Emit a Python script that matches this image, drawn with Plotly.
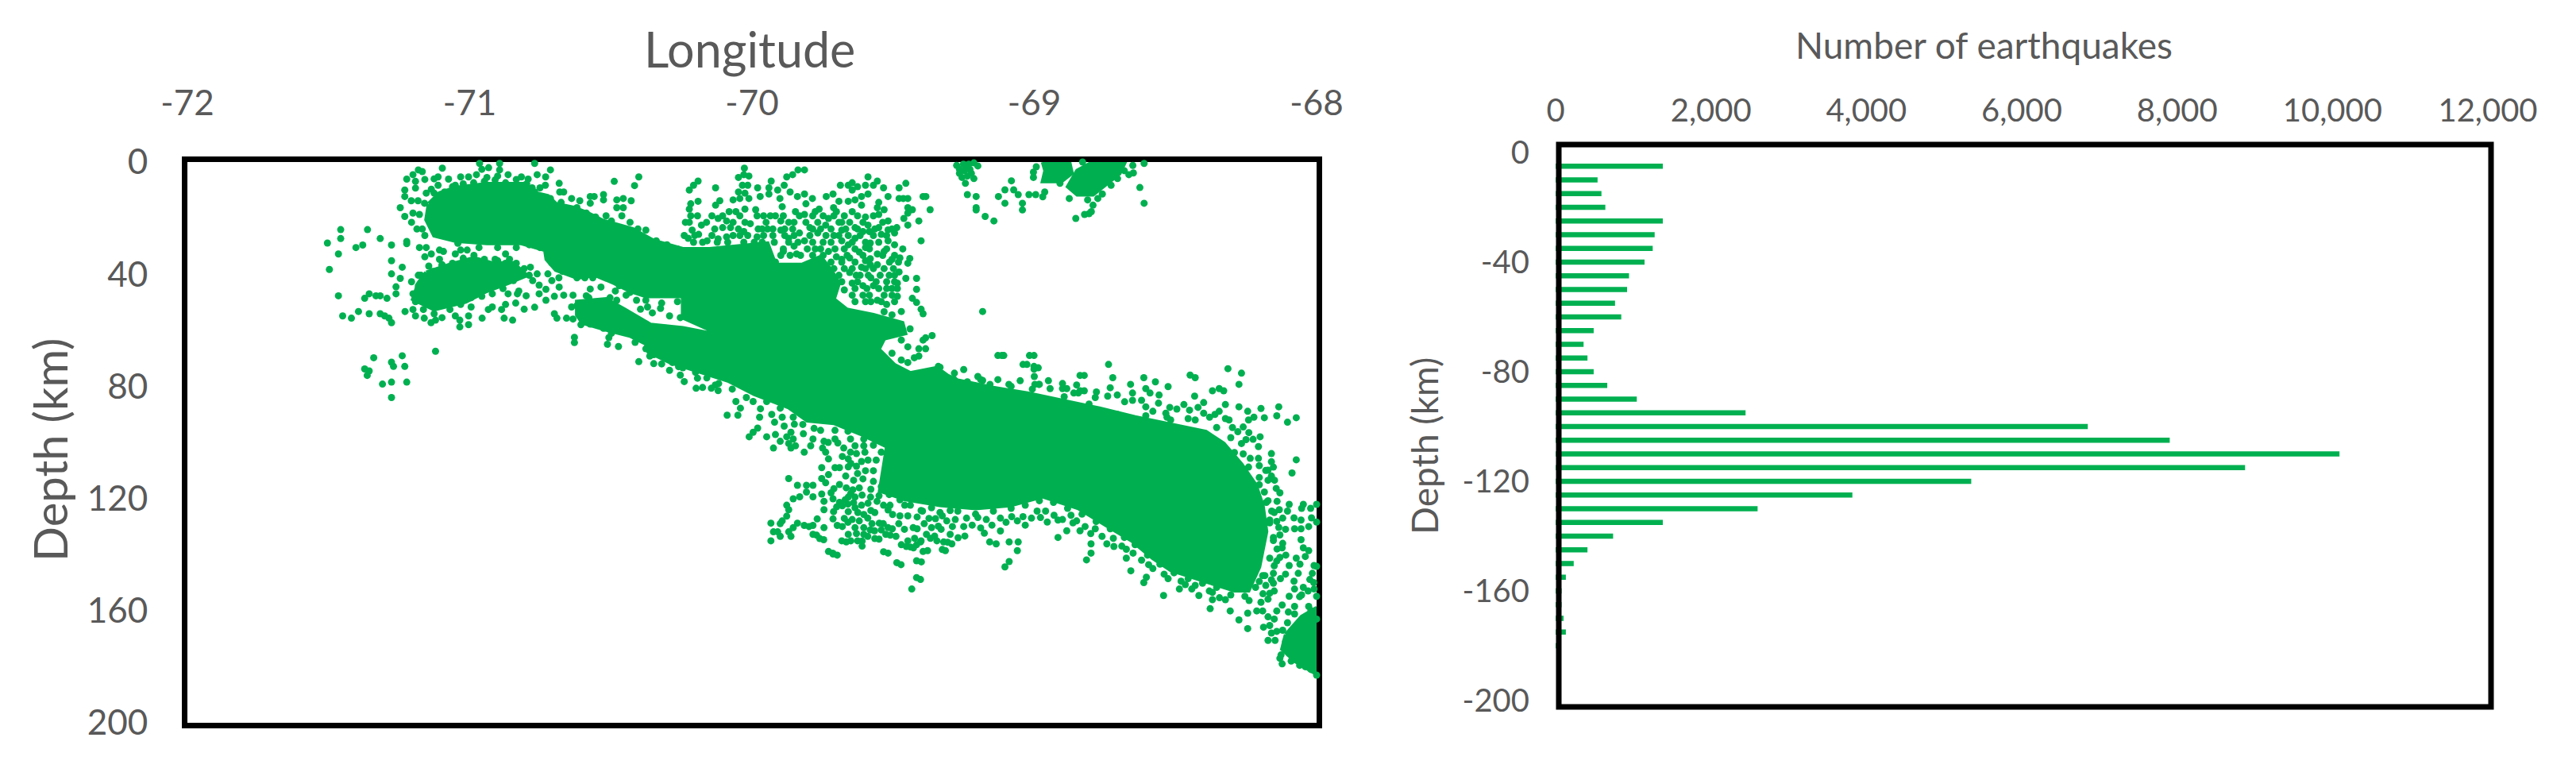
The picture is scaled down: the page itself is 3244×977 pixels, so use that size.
import plotly.graph_objects as go

# everything here. lon, depth pairs
GREEN = '#00B050'
GREY = '#595959'

# solid parts of the cloud, too dense to see single quakes: outlines (lon, depth)
slab_outline = [
    (-71.145, 14.9), (-71.107, 11.1), (-71.051, 9.2), (-70.939, 7.8), (-70.807, 7.8), (-70.765, 11.1),
    (-70.723, 12.1), (-70.695, 14.9), (-70.629, 16.3), (-70.582, 18.2), (-70.526, 21.0), (-70.423, 23.9),
    (-70.348, 28.1), (-70.282, 30.0), (-70.245, 31.0), (-70.151, 31.0), (-70.057, 30.0), (-69.945, 29.0),
    (-69.917, 36.6), (-69.823, 36.6), (-69.757, 33.8), (-69.720, 38.5), (-69.692, 43.2), (-69.710, 48.9),
    (-69.664, 52.6), (-69.570, 54.5), (-69.467, 57.4), (-69.457, 61.1), (-69.532, 63.0), (-69.551, 66.8),
    (-69.495, 72.4), (-69.439, 75.3), (-69.345, 73.4), (-69.307, 76.2), (-69.271, 77.9), (-69.145, 80.5),
    (-69.020, 82.6), (-68.894, 85.2), (-68.769, 87.9), (-68.643, 91.0), (-68.517, 93.6), (-68.392, 96.2),
    (-68.329, 100.4), (-68.266, 107.8), (-68.216, 115.1), (-68.191, 122.4), (-68.178, 131.8), (-68.203, 144.4),
    (-68.241, 152.8), (-68.291, 152.8), (-68.392, 149.6), (-68.517, 145.5), (-68.580, 141.3), (-68.655, 135.0),
    (-68.743, 129.7), (-68.844, 123.5), (-68.970, 119.3), (-69.082, 122.4), (-69.208, 123.5), (-69.334, 122.4),
    (-69.459, 120.3), (-69.547, 117.2), (-69.522, 101.5), (-69.617, 96.9), (-69.710, 93.1), (-69.804, 92.2),
    (-69.870, 87.5), (-69.992, 82.8), (-70.085, 78.0), (-70.170, 75.2), (-70.226, 73.3), (-70.292, 71.4),
    (-70.367, 67.7), (-70.376, 64.8), (-70.432, 62.0), (-70.507, 60.1), (-70.601, 57.3), (-70.620, 54.5),
    (-70.620, 49.8), (-70.517, 48.9), (-70.451, 52.6), (-70.360, 58.0), (-70.245, 59.2), (-70.100, 62.0),
    (-70.245, 55.5), (-70.245, 47.9), (-70.376, 47.9), (-70.432, 46.0), (-70.488, 43.2), (-70.554, 40.4),
    (-70.620, 41.3), (-70.695, 38.5), (-70.728, 34.7), (-70.733, 31.4), (-70.817, 29.0), (-70.939, 29.0),
    (-71.051, 28.1), (-71.126, 26.2), (-71.154, 20.6), (-71.145, 14.9),
]
lower_blob_outline = [
    (-71.154, 39.4), (-71.070, 36.6), (-70.985, 34.2), (-70.920, 36.1), (-70.845, 36.1), (-70.798, 40.4),
    (-70.864, 43.2), (-70.939, 46.0), (-71.014, 49.8), (-71.126, 52.6), (-71.201, 48.9), (-71.182, 43.2),
    (-71.154, 39.4),
]
deep_end_outline = [
    (-68.109, 168.5), (-68.053, 162.2), (-68.000, 159.0), (-68.000, 182.6), (-68.078, 177.9), (-68.122, 173.7),
    (-68.109, 168.5),
]
shallow_a_outline = [
    (-68.970, 0.0), (-68.876, 0.0), (-68.867, 4.0), (-68.904, 6.9), (-68.970, 6.9), (-68.961, 3.1), (-68.970, 0.0),
]
shallow_b_outline = [
    (-68.792, 0.0), (-68.679, 0.0), (-68.698, 4.05), (-68.745, 7.8), (-68.792, 11.6), (-68.848, 11.6),
    (-68.881, 8.8), (-68.848, 3.1), (-68.792, 0.0),
]

# single quakes around the solid parts
far_west = [
    (-71.457, 24.1), (-71.362, 24.1), (-71.457, 27.3), (-71.504, 28.9), (-71.317, 27.3), (-71.379, 29.6),
    (-71.403, 30.5), (-71.277, 29.6), (-71.223, 28.3), (-71.223, 29.1), (-71.465, 32.8), (-71.277, 35.2),
    (-71.497, 38.3), (-71.239, 37.5), (-71.277, 39.9), (-71.246, 41.5), (-71.261, 44.5), (-71.261, 47.0),
    (-71.465, 47.7), (-71.356, 47.0), (-71.372, 48.6), (-71.332, 47.7), (-71.317, 47.7), (-71.293, 48.6),
    (-71.394, 53.3), (-71.450, 54.9), (-71.419, 55.7), (-71.356, 54.1), (-71.317, 54.1), (-71.301, 54.9),
    (-71.286, 55.7), (-71.277, 57.3), (-71.121, 67.5), (-71.340, 69.8), (-71.239, 69.1), (-71.277, 71.4),
    (-71.270, 72.9), (-71.230, 72.9), (-71.372, 73.8), (-71.356, 74.5), (-71.363, 76.1), (-71.309, 79.2),
    (-71.277, 78.5), (-71.223, 78.5), (-71.277, 84.0),
]
blob_top = [
    (-71.223, 6.1), (-71.201, 4.5), (-71.182, 2.8), (-71.168, 3.4), (-71.097, 2.2), (-70.965, 0.5), (-70.894, 0.5),
    (-70.770, 0.5), (-70.714, 2.8), (-70.761, 4.5), (-70.731, 5.3), (-70.933, 2.0), (-70.957, 2.6), (-70.894, 2.8),
    (-70.488, 6.9), (-70.401, 5.3), (-70.416, 8.4), (-70.683, 7.6), (-70.681, 10.7), (-70.667, 10.7), (-70.639, 13.0),
    (-70.610, 13.8), (-70.573, 12.3), (-70.559, 12.3), (-70.526, 11.6), (-70.526, 13.5), (-70.479, 13.5),
    (-70.456, 13.0), (-70.428, 13.8), (-70.573, 14.7), (-70.479, 16.3), (-70.456, 16.3), (-71.246, 16.3),
    (-71.230, 19.4), (-71.230, 10.0), (-71.230, 12.3), (-71.207, 13.8), (-71.183, 13.8), (-71.160, 14.7),
    (-71.201, 18.2), (-71.178, 18.7), (-71.206, 21.5), (-71.187, 23.9), (-71.168, 23.9), (-71.159, 26.2),
    (-71.192, 6.9), (-71.192, 9.3), (-71.159, 6.2), (-71.126, 6.0), (-71.112, 5.3), (-71.075, 6.1), (-71.032, 5.3),
    (-71.004, 5.3), (-70.976, 4.5), (-70.939, 5.5), (-70.901, 5.0), (-70.864, 4.5), (-70.817, 5.3), (-70.793, 6.1),
    (-71.051, 8.3), (-71.154, 11.1), (-71.136, 9.7), (-71.112, 8.3), (-70.732, 8.3), (-70.751, 9.2), (-70.779, 9.2),
]
between_blobs = [
    (-71.178, 30.5), (-71.154, 30.5), (-71.159, 33.8), (-71.136, 32.8), (-71.107, 31.4), (-71.093, 31.9),
    (-71.107, 34.7), (-71.098, 36.6), (-71.145, 37.1), (-71.042, 29.0), (-71.032, 31.4), (-71.009, 31.4),
    (-71.051, 32.8), (-70.967, 30.5), (-70.901, 30.5), (-70.873, 32.8), (-70.835, 30.5), (-70.901, 35.2),
    (-70.859, 34.7), (-70.789, 29.5), (-70.751, 30.5),
]
blob_bottom = [
    (-70.785, 37.5), (-70.761, 39.9), (-70.777, 42.3), (-70.754, 43.9), (-70.730, 45.4), (-70.754, 47.0),
    (-70.730, 49.3), (-70.800, 47.7), (-70.826, 46.0), (-70.837, 50.3), (-70.873, 50.8), (-70.887, 52.6),
    (-70.920, 51.7), (-70.934, 52.6), (-70.807, 52.5), (-70.770, 51.8), (-70.878, 55.7), (-70.848, 56.4),
    (-70.956, 55.7), (-71.004, 58.0), (-71.035, 58.8), (-71.035, 56.4), (-71.004, 54.9), (-70.995, 51.7),
    (-71.051, 54.9), (-71.098, 55.5), (-71.121, 56.4), (-71.137, 57.3), (-71.161, 55.7), (-71.192, 54.9),
    (-71.229, 53.3), (-71.201, 52.6), (-71.192, 49.3), (-71.206, 42.7), (-71.182, 40.4), (-70.864, 47.0),
    (-70.831, 47.0),
]
blob_fringe = [
    (-71.126, 11.1), (-71.089, 10.7), (-71.061, 8.8), (-71.023, 7.8), (-70.986, 7.4), (-70.948, 6.9), (-70.910, 6.4),
    (-70.873, 7.4), (-70.835, 6.2), (-70.798, 7.8), (-70.770, 10.7), (-70.714, 13.0), (-70.676, 14.4), (-70.620, 16.3),
    (-70.587, 18.2), (-70.554, 19.6), (-70.517, 19.2), (-70.498, 21.0), (-70.461, 19.2), (-70.432, 21.5),
    (-70.404, 23.9), (-70.376, 24.3), (-70.339, 28.1), (-70.301, 29.5), (-70.264, 31.0), (-70.718, 33.3),
    (-70.709, 36.1), (-70.671, 39.0), (-70.620, 41.3), (-70.592, 41.3), (-70.564, 41.3), (-70.554, 38.5),
    (-70.498, 41.3), (-70.470, 44.1), (-70.432, 46.5), (-70.376, 49.3), (-70.320, 50.3), (-70.264, 49.8),
    (-70.620, 51.2), (-70.578, 48.4), (-70.535, 50.3), (-70.498, 51.7), (-70.456, 53.6), (-70.423, 55.5),
    (-70.376, 57.8), (-70.339, 60.2), (-70.306, 59.3), (-70.264, 60.2), (-70.573, 57.8), (-70.526, 59.3),
    (-70.498, 61.1), (-70.461, 60.2), (-70.414, 62.1), (-70.376, 61.6), (-70.357, 64.9), (-70.348, 68.7),
    (-70.315, 69.2), (-70.282, 71.5), (-70.245, 73.4), (-71.173, 40.4), (-71.131, 39.0), (-71.098, 37.0),
    (-71.061, 36.1), (-71.023, 34.3), (-70.985, 33.3), (-70.948, 34.7), (-70.910, 34.7), (-70.873, 36.1),
    (-70.835, 36.1), (-70.807, 38.0), (-70.789, 40.4), (-70.845, 42.3), (-70.882, 45.1), (-70.920, 47.0),
    (-70.957, 47.9), (-70.995, 48.4), (-71.032, 50.8), (-71.070, 52.6), (-71.126, 54.1), (-71.164, 52.6),
    (-71.192, 49.8), (-71.201, 47.0), (-71.182, 44.2),
]
slab_gap = [
    (-70.723, 39.9), (-70.709, 42.3), (-70.683, 44.6), (-70.684, 41.3), (-70.700, 47.9), (-70.667, 47.5),
    (-70.634, 47.5), (-70.587, 47.7), (-70.573, 45.3), (-70.535, 44.6), (-70.503, 48.4), (-70.479, 49.3),
    (-70.484, 46.0), (-70.446, 47.5), (-70.409, 49.3), (-70.395, 52.5), (-70.370, 51.7), (-70.353, 53.8),
    (-70.292, 54.9), (-70.254, 55.5), (-70.324, 52.2), (-70.700, 54.1), (-70.691, 55.7), (-70.657, 55.7),
    (-70.634, 56.0), (-70.639, 51.7), (-70.606, 58.0),
]
lower_slab_edge = [
    (-70.629, 62.5), (-70.629, 64.4), (-70.512, 65.0), (-70.473, 65.8), (-70.507, 62.6), (-70.414, 64.3),
    (-70.371, 64.3), (-70.376, 66.6), (-70.362, 69.2), (-70.401, 71.2), (-70.348, 71.9), (-70.320, 72.0),
    (-70.292, 74.3), (-70.254, 76.0), (-70.240, 78.3), (-70.193, 77.1), (-70.198, 80.7), (-70.175, 80.4),
    (-70.144, 80.7), (-70.120, 81.5), (-70.118, 79.0), (-70.301, 70.1), (-70.057, 85.4), (-70.041, 87.8),
    (-70.088, 90.3), (-70.050, 90.3), (-69.996, 85.4), (-69.948, 85.4), (-69.900, 87.8), (-69.973, 91.0),
    (-69.893, 91.0), (-69.854, 91.0),
]
under_band_west = [
    (-69.886, 94.2), (-69.980, 94.9), (-69.996, 96.4), (-70.010, 98.0), (-69.948, 98.0), (-69.917, 97.2),
    (-69.900, 99.6), (-69.924, 102.0), (-69.862, 96.4), (-69.877, 98.0), (-69.854, 98.8), (-69.870, 100.4),
    (-69.846, 101.2), (-69.862, 102.0), (-69.815, 103.5), (-69.792, 101.2), (-69.784, 98.8), (-69.818, 96.9),
    (-69.757, 95.7), (-69.745, 99.6), (-69.739, 103.5), (-69.729, 105.9), (-69.706, 98.8), (-69.696, 100.2),
    (-69.675, 102.0), (-69.706, 95.7), (-69.651, 98.8), (-69.651, 103.5), (-69.604, 98.8), (-69.635, 101.2),
    (-69.604, 101.2), (-69.659, 105.9), (-69.659, 108.7), (-69.612, 106.8), (-69.753, 109.0), (-69.706, 109.0),
    (-69.690, 109.0), (-69.729, 111.5), (-69.668, 112.0), (-69.753, 112.9), (-69.870, 112.9), (-69.839, 115.3),
    (-69.807, 115.3), (-69.784, 115.3), (-69.739, 114.4), (-69.807, 117.7), (-69.753, 118.4), (-69.784, 119.4),
    (-69.831, 119.4), (-69.854, 120.1), (-69.877, 122.4), (-69.870, 124.0), (-69.877, 126.3), (-69.893, 128.0),
    (-69.900, 129.0), (-69.933, 128.8), (-69.839, 128.8), (-69.854, 130.4), (-69.870, 131.9), (-69.924, 131.9),
    (-69.909, 131.9), (-69.900, 133.5), (-69.933, 135.1), (-69.862, 133.5), (-69.815, 129.6), (-69.784, 132.8),
    (-69.760, 134.3), (-69.784, 129.6), (-69.769, 127.3), (-69.745, 130.4), (-69.713, 127.3), (-69.698, 129.6),
    (-69.745, 121.0), (-69.745, 124.0), (-69.713, 120.1), (-69.690, 121.4), (-69.659, 119.5), (-69.635, 119.5),
    (-69.666, 116.2), (-69.643, 116.9), (-69.620, 116.2), (-69.612, 122.4), (-69.589, 121.7), (-69.557, 121.0),
    (-69.635, 123.3), (-69.659, 124.7), (-69.673, 127.1), (-69.711, 124.7), (-69.579, 124.3), (-69.565, 125.0),
    (-69.604, 125.7), (-69.620, 128.0), (-69.635, 130.4), (-69.604, 130.4), (-69.581, 131.2), (-69.604, 132.8),
    (-69.659, 132.8), (-69.682, 135.1), (-69.650, 135.1), (-69.626, 135.1), (-69.565, 134.3), (-69.549, 128.8),
    (-69.542, 131.2), (-69.526, 132.8), (-69.518, 130.4), (-69.534, 122.4), (-69.511, 122.4), (-69.518, 124.1),
    (-69.502, 125.7), (-69.476, 126.2), (-69.729, 138.9), (-69.713, 139.8), (-69.534, 139.0), (-69.487, 142.9),
    (-69.417, 142.2), (-69.417, 148.2), (-69.471, 136.5), (-69.448, 135.1), (-69.424, 134.2), (-69.439, 137.3),
    (-69.401, 135.1), (-69.417, 136.5), (-69.394, 138.9), (-69.429, 130.4), (-69.448, 126.2), (-69.415, 126.6),
    (-69.373, 127.1), (-69.364, 130.4), (-69.340, 129.9), (-69.382, 132.8), (-69.368, 134.2), (-69.345, 135.1),
    (-69.326, 138.2), (-69.307, 135.6), (-69.298, 132.8),
]
band_fringe = [
    (-69.589, 106.3), (-69.570, 110.1), (-69.607, 113.0), (-69.570, 113.9), (-69.542, 115.8), (-69.598, 110.1),
    (-69.560, 106.3), (-69.542, 103.5), (-69.626, 111.1), (-69.579, 116.7), (-69.514, 118.6), (-69.476, 120.5),
    (-69.439, 122.4), (-69.401, 124.3), (-69.364, 123.3), (-69.326, 126.2), (-69.298, 124.3), (-69.459, 122.4),
    (-69.396, 124.5), (-69.334, 125.0), (-69.271, 124.5), (-69.208, 125.6), (-69.145, 124.5), (-69.082, 123.5),
    (-69.032, 122.4), (-68.982, 120.8), (-68.932, 121.4), (-68.882, 123.5), (-68.831, 125.6), (-68.781, 128.2),
    (-68.731, 130.8), (-68.681, 133.9), (-68.643, 136.5), (-68.599, 140.2), (-68.555, 143.4), (-68.505, 146.5),
    (-68.455, 148.6), (-68.404, 150.2), (-68.354, 151.7), (-68.304, 154.4), (-68.254, 154.9), (-68.216, 151.7),
    (-68.191, 147.5), (-68.166, 141.3), (-68.153, 135.0), (-68.166, 127.7), (-68.178, 121.4), (-68.203, 115.1),
    (-68.241, 108.8), (-68.291, 103.6), (-68.304, 98.3), (-68.354, 94.7), (-68.430, 92.0), (-68.530, 91.0),
    (-68.605, 90.5), (-68.706, 90.0), (-68.806, 86.3), (-68.894, 83.7), (-69.007, 81.0), (-69.082, 80.0),
    (-69.183, 77.9), (-69.283, 75.3), (-69.334, 73.2),
]
band_under_extra = [
    (-69.67, 120.5), (-69.68, 122.6), (-69.66, 122.0), (-69.70, 123.0), (-69.64, 121.5), (-69.625, 125.0),
    (-69.59, 127.0), (-69.575, 129.0), (-69.68, 130.0), (-69.66, 128.5), (-69.645, 127.5), (-69.63, 132.5),
    (-69.59, 133.5), (-69.61, 137.0), (-69.48, 129.0), (-69.46, 131.0), (-69.49, 133.5), (-69.39, 129.0),
    (-69.35, 127.2), (-69.33, 131.0), (-69.31, 128.0), (-69.29, 130.0), (-69.28, 127.5), (-69.27, 134.0),
    (-69.25, 130.0), (-69.24, 127.0), (-69.22, 129.5), (-69.20, 126.8), (-69.19, 130.5), (-69.17, 127.5),
    (-69.15, 129.5), (-69.12, 127.0), (-69.10, 128.5), (-69.08, 126.5), (-69.06, 128.0), (-69.04, 126.5),
    (-69.01, 127.0), (-68.99, 124.5), (-68.96, 124.5), (-68.93, 126.0), (-68.90, 127.5), (-68.87, 126.0),
    (-68.85, 128.0), (-68.82, 130.0), (-68.80, 132.5), (-68.76, 133.5), (-68.72, 134.2), (-68.69, 137.0),
    (-68.65, 139.5), (-68.62, 142.0), (-68.58, 145.0), (-68.54, 147.0), (-68.48, 149.5), (-68.43, 151.0),
    (-68.38, 153.0), (-69.75, 102.0), (-69.73, 100.0), (-69.68, 105.0), (-69.65, 107.5), (-69.63, 108.5),
    (-69.64, 113.5), (-69.69, 115.0), (-69.71, 116.5), (-69.72, 118.0), (-69.65, 118.2), (-69.61, 118.8),
    (-69.58, 119.5), (-69.55, 119.0), (-69.60, 103.5), (-69.63, 104.0), (-69.57, 101.0), (-69.55, 99.0),
    (-69.60, 96.5), (-69.66, 96.0), (-69.63, 95.0), (-69.70, 92.5), (-69.78, 95.0), (-69.82, 93.6), (-69.85, 93.5),
    (-69.93, 90.0), (-69.92, 92.8), (-69.97, 88.0), (-70.02, 84.0), (-70.07, 81.0), (-70.13, 79.5), (-70.16, 77.0),
    (-70.20, 75.0), (-70.26, 73.0), (-70.31, 69.5),
]
band_top = [
    (-69.108, 69.0), (-69.001, 69.0), (-69.026, 72.2), (-68.986, 73.4), (-68.737, 72.2), (-68.823, 76.1),
    (-68.722, 76.9), (-68.612, 76.9), (-68.571, 78.4), (-68.448, 76.0), (-68.430, 76.9), (-68.314, 73.7),
    (-68.266, 75.3), (-68.275, 79.3), (-68.526, 80.1), (-68.659, 79.3), (-68.731, 80.5), (-68.885, 80.8),
    (-68.982, 79.3), (-68.944, 80.8), (-68.844, 82.4), (-68.823, 81.6), (-68.784, 84.0), (-68.706, 83.1),
    (-68.652, 82.4), (-68.605, 80.8), (-68.590, 82.4), (-68.558, 83.1), (-68.652, 85.0), (-68.605, 87.3),
    (-68.580, 88.9), (-68.534, 89.6), (-68.495, 88.1), (-68.470, 86.5), (-68.432, 83.5), (-68.400, 85.8),
    (-68.369, 81.6), (-68.345, 80.8), (-68.329, 81.6), (-68.323, 86.5), (-68.275, 87.3), (-68.345, 88.9),
    (-68.244, 88.9), (-68.197, 87.9), (-68.241, 92.0), (-68.134, 87.3), (-68.141, 90.5), (-68.072, 91.2),
    (-68.103, 92.8), (-68.185, 91.2), (-68.222, 91.0), (-68.400, 89.6), (-68.455, 91.5), (-68.517, 92.0),
    (-68.379, 91.0), (-68.323, 91.5), (-68.298, 94.7), (-68.279, 96.2), (-68.266, 100.4), (-68.225, 98.9),
    (-68.206, 101.5), (-68.260, 104.1), (-68.235, 105.7), (-68.206, 105.7), (-68.203, 108.3), (-68.160, 106.9),
    (-68.072, 106.2), (-68.087, 110.9), (-68.153, 108.8), (-68.172, 109.9), (-68.149, 113.5), (-68.172, 113.5),
    (-68.143, 116.4), (-68.203, 112.5), (-68.185, 117.7), (-68.172, 120.8),
]
band_top_extra = [
    (-69.25, 74.0), (-69.20, 76.5), (-69.05, 78.0), (-69.00, 76.5), (-68.95, 78.0), (-68.90, 79.0), (-68.85, 79.5),
    (-68.78, 82.0), (-68.74, 83.5), (-68.68, 85.5), (-68.62, 85.0), (-68.56, 86.0), (-68.52, 87.5), (-68.45, 88.5),
    (-68.42, 87.5), (-68.36, 90.0), (-68.31, 92.0), (-68.26, 94.5), (-68.24, 96.5), (-68.25, 99.0), (-68.20, 98.0),
    (-68.16, 104.0), (-68.18, 110.0), (-68.16, 112.0), (-68.13, 118.0), (-68.14, 121.0), (-68.15, 125.0),
    (-68.12, 127.0), (-68.13, 133.0), (-68.11, 131.0), (-68.12, 136.0), (-68.14, 138.0), (-68.13, 141.0),
    (-68.15, 144.0), (-68.18, 151.0), (-68.16, 149.0), (-68.19, 154.0), (-68.15, 153.0), (-68.11, 147.0),
    (-68.08, 149.5), (-68.06, 155.0), (-68.03, 153.0), (-68.01, 150.0), (-68.02, 160.0), (-68.00, 163.0),
    (-68.10, 160.5), (-68.15, 163.0), (-68.12, 167.0), (-68.16, 168.0), (-68.11, 171.0), (-68.13, 177.0),
    (-68.09, 178.0), (-68.06, 179.5), (-68.04, 180.0), (-68.02, 181.0),
]
east_edge = [
    (-68.097, 122.1), (-68.047, 122.1), (-68.021, 123.5), (-68.000, 122.1), (-68.053, 123.5), (-68.132, 124.0),
    (-68.103, 124.5), (-68.159, 124.5), (-68.080, 126.9), (-68.055, 127.7), (-68.018, 126.9), (-68.000, 128.4),
    (-68.141, 128.2), (-68.166, 128.7), (-68.078, 130.8), (-68.028, 130.0), (-68.055, 130.8), (-68.134, 130.3),
    (-68.153, 133.9), (-68.055, 134.7), (-68.047, 137.6), (-68.122, 137.6), (-68.028, 138.6), (-68.109, 140.2),
    (-68.072, 141.3), (-68.040, 140.7), (-68.141, 142.3), (-68.000, 144.2), (-68.097, 143.9), (-68.059, 143.4),
    (-68.009, 143.9), (-68.065, 146.7), (-68.015, 146.7), (-68.153, 146.7), (-68.183, 147.5), (-68.024, 148.9),
    (-68.128, 148.6), (-68.203, 149.6), (-68.153, 150.2), (-68.047, 151.7), (-68.078, 152.3), (-68.009, 152.3),
    (-68.000, 154.9), (-68.166, 153.8), (-68.097, 154.9), (-68.053, 154.4), (-68.172, 155.9), (-68.122, 158.0),
    (-68.078, 158.5), (-68.028, 158.5), (-68.197, 157.0), (-68.239, 156.4), (-68.212, 160.1), (-68.244, 160.9),
    (-68.306, 160.1), (-68.275, 163.3), (-68.244, 166.4), (-68.122, 179.0), (-68.126, 175.8), (-68.000, 183.0),
    (-68.172, 170.6), (-68.188, 165.9), (-68.166, 165.3), (-68.147, 170.6), (-68.141, 167.4), (-68.103, 164.3),
    (-68.172, 162.2), (-68.191, 160.1), (-68.141, 160.1), (-68.078, 161.2), (-68.028, 162.2), (-68.097, 175.3),
]
band_bottom = [
    (-68.377, 159.3), (-68.369, 156.1), (-68.344, 155.4), (-68.323, 156.1), (-68.369, 153.5), (-68.417, 154.6),
    (-68.442, 152.3), (-68.486, 152.3), (-68.465, 150.7), (-68.542, 154.6), (-68.526, 148.6), (-68.612, 150.0),
    (-68.603, 148.1), (-68.658, 145.8), (-68.595, 143.6), (-68.674, 141.3), (-68.743, 136.2), (-68.718, 137.1),
    (-68.815, 141.9), (-68.799, 139.5), (-68.799, 136.2), (-68.674, 138.1), (-68.916, 133.9), (-68.838, 131.5),
    (-68.784, 130.8), (-68.885, 131.5), (-68.863, 128.7), (-68.916, 127.7), (-68.954, 128.4), (-68.978, 126.8),
    (-69.057, 135.5), (-69.089, 135.5), (-69.060, 138.6), (-69.089, 142.5), (-69.104, 144.4), (-69.032, 129.5),
    (-69.120, 131.6), (-69.135, 136.2), (-69.158, 135.5), (-69.177, 132.4), (-69.246, 133.4), (-69.292, 136.2),
    (-69.315, 138.6), (-69.321, 135.5), (-69.353, 133.4), (-69.378, 138.6), (-69.403, 135.5), (-69.400, 142.6),
    (-69.472, 143.6), (-69.518, 139.5), (-69.403, 148.9), (-69.434, 152.3), (-69.428, 137.6), (-69.453, 137.1),
    (-69.415, 130.8), (-69.503, 130.8), (-69.550, 134.5), (-69.510, 133.1), (-69.535, 129.0), (-69.566, 131.5),
    (-69.610, 135.2), (-69.666, 135.5), (-69.698, 140.2), (-69.714, 139.5), (-69.746, 134.7), (-69.771, 133.1),
    (-69.798, 130.0),
]
upper_cloud = [
    (-70.027, 2.2), (-69.814, 2.8), (-69.837, 2.8), (-69.856, 4.5), (-69.877, 5.3), (-70.191, 6.8), (-70.207, 8.3),
    (-70.222, 10.0), (-70.129, 9.2), (-69.932, 6.8), (-69.940, 9.2), (-69.909, 10.0), (-69.886, 8.3), (-69.865, 10.7),
    (-69.980, 9.2), (-69.971, 12.3), (-69.940, 11.4), (-69.901, 13.0), (-69.893, 15.9), (-69.839, 12.3),
    (-69.814, 11.4), (-69.786, 13.0), (-69.809, 14.9), (-69.737, 12.3), (-69.713, 11.4), (-69.692, 14.0),
    (-70.191, 14.0), (-70.217, 14.9), (-70.222, 16.8), (-70.114, 13.8), (-70.129, 15.4), (-70.029, 4.5),
    (-70.048, 5.5), (-70.011, 5.0), (-70.034, 8.3), (-70.015, 8.3), (-70.048, 10.7), (-70.025, 11.1), (-70.067, 13.5),
    (-70.043, 13.0), (-70.011, 13.0), (-69.589, 5.3), (-69.556, 6.8), (-69.455, 7.6), (-69.479, 9.2), (-69.534, 9.2),
    (-69.687, 8.3), (-69.659, 8.3), (-69.645, 7.4), (-69.626, 8.8), (-69.645, 10.0), (-69.598, 8.3), (-69.570, 8.3),
    (-69.589, 11.4), (-69.612, 12.3), (-69.635, 13.5), (-69.659, 14.0), (-69.612, 15.4), (-69.518, 12.3),
    (-69.479, 13.0), (-69.464, 13.0), (-69.448, 13.0), (-69.394, 12.3), (-69.384, 12.3), (-69.369, 17.0),
    (-69.448, 16.3), (-69.432, 17.0), (-69.551, 14.4), (-69.556, 16.3), (-69.532, 17.0), (-69.409, 21.0),
    (-69.448, 22.5), (-69.462, 20.1), (-69.448, 18.2), (-69.551, 18.7), (-69.518, 21.0), (-69.551, 23.4),
    (-69.518, 24.2), (-69.487, 23.4), (-69.495, 25.3), (-69.542, 25.8), (-69.401, 28.1), (-69.581, 28.9),
    (-69.598, 30.5), (-69.620, 32.1), (-69.518, 28.1), (-69.495, 29.5), (-69.532, 31.9), (-69.556, 32.8),
    (-69.581, 34.5), (-69.598, 35.2), (-69.504, 34.7), (-69.476, 34.2), (-69.441, 34.4), (-69.448, 36.1),
    (-69.556, 36.6), (-69.581, 36.6), (-69.612, 37.5), (-69.479, 39.2), (-69.455, 41.5), (-69.417, 41.5),
    (-69.417, 45.4), (-69.432, 48.6), (-69.417, 50.1), (-69.401, 52.5), (-69.394, 54.1), (-69.485, 43.2),
    (-69.485, 47.9), (-69.514, 40.4), (-69.504, 45.1), (-69.523, 50.8), (-69.532, 53.4), (-69.504, 54.5),
    (-69.471, 53.3), (-69.556, 49.3), (-69.579, 49.8), (-69.579, 41.3), (-69.570, 44.1), (-69.607, 44.1),
    (-69.607, 47.5), (-69.631, 40.4), (-69.654, 39.4), (-69.645, 43.2), (-69.673, 45.6), (-69.654, 34.2),
    (-69.682, 34.7), (-69.701, 33.8), (-69.729, 31.9), (-69.682, 28.1), (-69.659, 29.5), (-69.635, 27.2),
    (-69.607, 24.8), (-69.584, 24.8), (-69.635, 23.4), (-69.682, 24.3), (-69.710, 26.2), (-69.748, 28.6),
    (-69.767, 25.3), (-69.795, 23.4), (-69.814, 18.7), (-69.846, 17.7), (-69.762, 16.8), (-69.776, 17.7),
    (-69.711, 16.3), (-69.729, 20.1), (-69.682, 21.5), (-69.645, 17.7), (-69.598, 19.6), (-69.589, 22.5),
    (-69.870, 21.5), (-69.898, 21.0), (-69.926, 23.9), (-69.959, 19.2), (-69.987, 17.0), (-70.025, 16.8),
    (-70.057, 17.7), (-70.081, 17.7), (-70.120, 20.1), (-70.090, 21.0), (-70.076, 23.4), (-70.006, 22.0),
    (-70.029, 24.8), (-70.043, 26.2), (-70.104, 23.4), (-70.090, 26.7), (-70.120, 27.4), (-70.179, 22.5),
    (-70.189, 25.8), (-70.222, 21.5), (-70.212, 24.3), (-70.226, 27.2), (-70.159, 28.1), (-69.982, 26.7),
    (-69.945, 23.9), (-69.898, 24.3), (-69.870, 27.2), (-69.832, 25.3), (-69.814, 28.1), (-69.776, 31.0),
    (-69.889, 31.9), (-69.851, 30.0), (-69.842, 32.8), (-69.739, 22.5), (-69.701, 17.7),
]
upper_cloud_extra = [
    (-70.217, 19.2), (-70.193, 19.2), (-70.142, 19.2), (-70.104, 19.2), (-70.043, 19.2), (-69.982, 19.2),
    (-69.935, 19.2), (-69.917, 19.2), (-69.889, 19.2), (-69.832, 19.2), (-69.785, 19.2), (-69.748, 19.2),
    (-69.710, 19.2), (-69.673, 19.2), (-69.626, 19.2), (-69.570, 19.2), (-70.236, 21.5), (-70.161, 21.5),
    (-70.067, 21.5), (-70.025, 21.5), (-69.950, 21.5), (-69.851, 21.5), (-69.809, 21.5), (-69.767, 21.5),
    (-69.692, 21.5), (-69.654, 21.5), (-69.607, 21.5), (-69.537, 21.5), (-70.132, 23.9), (-70.048, 23.9),
    (-69.978, 23.9), (-69.964, 23.9), (-69.884, 23.9), (-69.856, 23.9), (-69.785, 23.9), (-69.757, 23.9),
    (-69.720, 23.9), (-69.668, 23.9), (-69.626, 23.9), (-69.565, 23.9), (-69.504, 23.9), (-70.240, 26.2),
    (-70.203, 26.2), (-70.142, 26.2), (-70.067, 26.2), (-70.015, 26.2), (-69.959, 26.2), (-69.926, 26.2),
    (-69.884, 26.2), (-69.851, 26.2), (-69.795, 26.2), (-69.738, 26.2), (-69.692, 26.2), (-69.659, 26.2),
    (-69.617, 26.2), (-69.570, 26.2), (-69.523, 26.2), (-70.207, 28.6), (-70.175, 28.6), (-70.123, 28.6),
    (-70.086, 28.6), (-70.029, 28.6), (-69.992, 28.6), (-69.964, 28.6), (-69.921, 28.6), (-69.870, 28.6),
    (-69.837, 28.6), (-69.785, 28.6), (-69.720, 28.6), (-69.645, 28.6), (-69.598, 28.6), (-69.551, 28.6),
    (-69.889, 31.0), (-69.804, 31.0), (-69.757, 31.0), (-69.706, 31.0), (-69.673, 31.0), (-69.635, 31.0),
    (-69.584, 31.0), (-69.523, 31.0), (-69.466, 31.0), (-69.898, 33.3), (-69.865, 33.3), (-69.828, 33.3),
    (-69.785, 33.3), (-69.748, 33.3), (-69.663, 33.3), (-69.607, 33.3), (-69.537, 33.3), (-69.495, 33.3),
    (-69.917, 35.7), (-69.776, 35.7), (-69.720, 35.7), (-69.682, 35.7), (-69.635, 35.7), (-69.513, 35.7),
    (-69.481, 35.7), (-69.710, 38.0), (-69.673, 38.0), (-69.645, 38.0), (-69.598, 38.0), (-69.570, 38.0),
    (-69.532, 38.0), (-69.499, 38.0), (-69.692, 40.4), (-69.617, 40.4), (-69.588, 40.4), (-69.546, 40.4),
    (-69.495, 40.4), (-69.682, 42.7), (-69.626, 42.7), (-69.560, 42.7), (-69.523, 42.7), (-69.495, 42.7),
    (-69.551, 45.1), (-69.523, 45.1), (-69.485, 45.1), (-69.635, 45.1), (-69.593, 45.1), (-69.645, 47.5),
    (-69.584, 47.5), (-69.532, 47.5), (-69.504, 47.5), (-69.635, 49.8), (-69.598, 49.8), (-69.542, 49.8),
    (-69.495, 49.8),
]
cloud_south_east = [
    (-69.440, 59.5), (-69.362, 61.9), (-69.385, 62.7), (-69.394, 63.5), (-69.385, 66.6), (-69.409, 66.6),
    (-69.409, 69.2), (-69.425, 69.8), (-69.448, 65.9), (-69.471, 63.5), (-69.448, 71.5), (-69.471, 70.6),
    (-69.504, 68.2), (-69.183, 53.3), (-69.129, 69.0), (-69.115, 69.0), (-69.017, 69.0), (-69.040, 72.2),
    (-69.001, 72.9), (-69.001, 73.9), (-68.838, 76.1), (-68.998, 79.3), (-68.984, 79.3), (-68.900, 80.8),
    (-68.838, 81.6), (-68.860, 82.4), (-69.129, 77.6), (-69.090, 79.3), (-69.157, 79.3), (-69.190, 77.6),
    (-69.237, 78.4), (-69.284, 77.6), (-69.340, 72.9),
]
shallow_east = [
    (-69.275, 1.2), (-69.251, 0.75), (-69.232, 0.75), (-69.214, 0.3), (-69.200, 1.4), (-69.265, 4.05), (-69.247, 3.1),
    (-69.228, 2.6), (-69.256, 5.5), (-69.237, 5.0), (-69.223, 4.05), (-69.214, 5.9), (-69.244, 7.6), (-69.265, 2.6),
    (-69.242, 1.7), (-69.237, 11.6), (-69.206, 12.3), (-69.206, 16.3), (-69.206, 17.1), (-69.174, 19.4),
    (-69.143, 21.0), (-69.127, 12.3), (-69.104, 9.9), (-69.081, 6.7), (-69.073, 9.9), (-69.057, 11.6), (-69.104, 14.7),
    (-69.042, 14.7), (-69.042, 17.1), (-69.019, 11.6), (-68.995, 11.6), (-68.970, 12.4), (-68.963, 10.7),
    (-69.003, 5.5), (-69.003, 3.6), (-68.993, 1.7), (-68.876, 13.0), (-68.853, 20.1), (-68.822, 18.7), (-68.806, 18.4),
    (-68.798, 17.7), (-68.792, 15.4), (-68.811, 13.5), (-68.775, 13.0), (-68.759, 11.4), (-68.626, 9.1),
    (-68.611, 14.7), (-68.611, 0.5), (-68.649, 3.9), (-68.665, 4.5), (-68.651, 1.2), (-68.681, 3.1), (-68.705, 5.9),
    (-68.728, 8.3), (-68.829, 0.0), (-68.909, 7.6),
]

# histogram, 5 km bins
bin_depth = [-5, -10, -15, -20, -25, -30, -35, -40, -45, -50, -55, -60, -65, -70, -75, -80, -85, -90, -95, -100,
             -105, -110, -115, -120, -125, -130, -135, -140, -145, -150, -155, -160, -165, -170, -175, -180]
quake_count = [1380, 540, 590, 640, 1380, 1275, 1250, 1145, 945, 920, 765, 845, 490, 360, 410, 490, 665, 1045, 2445,
               6850, 7905, 10090, 8875, 5350, 3820, 2600, 1380, 740, 410, 233, 132, 77, 77, 102, 132, 70]

lon_ticks = [-72, -71, -70, -69, -68]
lon_labels = ['-72', '-71', '-70', '-69', '-68']
depth_ticks = [0, 40, 80, 120, 160, 200]
count_ticks = [0, 2000, 4000, 6000, 8000, 10000, 12000]
signed_depth_ticks = [0, -40, -80, -120, -160, -200]
signed_depth_labels = ['0', '-40', '-80', '-120', '-160', '-200']

W, H = 3244, 977


def fx(px):
    return px / W


def fy(py):
    return 1 - py / H


fig = go.Figure()

for outline in [slab_outline, lower_blob_outline, deep_end_outline, shallow_a_outline, shallow_b_outline]:
    lons, deps = zip(*outline)
    fig.add_trace(go.Scatter(x=lons, y=deps, mode='lines', fill='toself', fillcolor=GREEN,
                             line=dict(color=GREEN, width=5), hoverinfo='skip', cliponaxis=False))

for group in [far_west, blob_top, between_blobs, blob_bottom, blob_fringe, slab_gap, lower_slab_edge, under_band_west,
              band_fringe, band_under_extra, band_top, band_top_extra, east_edge, band_bottom, upper_cloud,
              upper_cloud_extra, cloud_south_east, shallow_east]:
    lons, deps = zip(*group)
    fig.add_trace(go.Scatter(x=lons, y=deps, mode='markers', marker=dict(size=9, color=GREEN), cliponaxis=False))

fig.add_trace(go.Bar(x=quake_count, y=bin_depth, orientation='h', width=1.9, marker=dict(color=GREEN, line_width=0),
                     xaxis='x2', yaxis='y2'))

tick_font = dict(family='Lato', size=44, color=GREY)
count_font = dict(family='Lato', size=40, color=GREY)
frame = dict(showline=True, mirror=True, linecolor='black', linewidth=7, showgrid=False, zeroline=False,
             ticks='', layer='below traces', automargin=False)
plain = dict(showline=False, showgrid=False, zeroline=False, ticks='', automargin=False)
title_anchor = dict(xref='paper', yref='paper', showarrow=False, xanchor='center', yanchor='middle')

fig.update_layout(
    width=W, height=H, margin=dict(l=0, r=0, t=0, b=0), showlegend=False, paper_bgcolor='white',
    plot_bgcolor='white',
    xaxis=dict(domain=[fx(236), fx(1658)], range=[-72, -68], side='top', anchor='y', tickvals=lon_ticks,
               ticktext=lon_labels, tickfont=tick_font, ticklabelstandoff=34, **frame),
    yaxis=dict(domain=[fy(910), fy(204)], range=[200, 0], anchor='x', tickvals=depth_ticks,
               tickfont=tick_font, ticklabelstandoff=34, **frame),
    xaxis2=dict(domain=[fx(1959), fx(3133)], range=[0, 12000], side='top', anchor='y2', tickvals=count_ticks,
                tickformat=',', tickfont=count_font, ticklabelstandoff=30, **plain),
    yaxis2=dict(domain=[fy(882), fy(192)], range=[-200, 0], anchor='x2', tickvals=signed_depth_ticks,
                ticktext=signed_depth_labels, tickfont=count_font, ticklabelstandoff=32, **plain),
    # the right panel's box sits a little off its axes
    shapes=[dict(type='rect', xref='paper', yref='paper', x0=fx(1963), x1=fx(3137), y0=fy(890), y1=fy(182),
                 line=dict(color='black', width=7), layer='above')],
    annotations=[
        dict(text='Longitude', x=fx(944), y=fy(62), font=dict(family='Lato', size=61, color=GREY), **title_anchor),
        dict(text='Depth (km)', x=fx(62), y=fy(566), textangle=-90, font=dict(family='Lato', size=58, color=GREY),
             **title_anchor),
        dict(text='Number of earthquakes', x=fx(2498), y=fy(56), font=dict(family='Lato', size=46, color=GREY),
             **title_anchor),
        dict(text='Depth (km)', x=fx(1793), y=fy(562), textangle=-90, font=dict(family='Lato', size=46, color=GREY),
             **title_anchor),
    ],
)

fig.write_html("out.html", config=dict(displayModeBar=False), post_script="document.body.style.margin='0';")
